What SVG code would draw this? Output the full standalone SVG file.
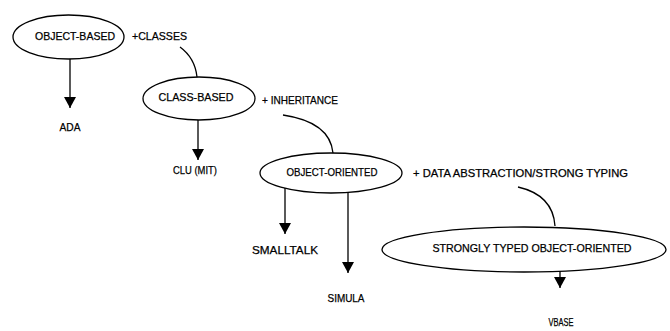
<svg xmlns="http://www.w3.org/2000/svg" width="670" height="331" viewBox="0 0 670 331">
<style>
.n{fill:none;stroke:#000;stroke-width:1.3}
.c{fill:none;stroke:#000;stroke-width:1.3}
text{font-family:"Liberation Sans",Arial,sans-serif;font-size:11px;fill:#000;stroke:#000;stroke-width:0.25}
.m{text-anchor:middle}
</style>
<defs>
<marker id="ah" viewBox="0 0 11 12" refX="11" refY="6" markerWidth="11" markerHeight="12" markerUnits="userSpaceOnUse" orient="auto">
<path d="M0,0 L11,6 L0,12 z" fill="#000"/>
</marker>
</defs>
<rect width="670" height="331" fill="#fff"/>
<g id="connectors">
<path class="c" d="M180,47 Q195,58 197,77"/>
<path class="c" d="M283,115 Q330,122 333,153"/>
<path class="c" d="M518,187 Q553,195 555,226"/>
<line class="c" x1="70" y1="59" x2="70" y2="108" marker-end="url(#ah)"/>
<line class="c" x1="198" y1="120" x2="198" y2="160" marker-end="url(#ah)"/>
<line class="c" x1="285" y1="188" x2="285" y2="234" marker-end="url(#ah)"/>
<line class="c" x1="348" y1="192" x2="348" y2="273" marker-end="url(#ah)"/>
<line class="c" x1="560" y1="271" x2="560" y2="288" marker-end="url(#ah)"/>
</g>
<g id="object-based">
<ellipse class="n" cx="68.5" cy="37" rx="55.5" ry="22"/>
<text class="m" x="75" y="40" textLength="80" lengthAdjust="spacingAndGlyphs">OBJECT-BASED</text>
</g>
<g id="classes-label"><text x="132" y="40" textLength="55" lengthAdjust="spacingAndGlyphs">+CLASSES</text></g>
<g id="ada"><text class="m" x="70" y="131" textLength="21" lengthAdjust="spacingAndGlyphs">ADA</text></g>
<g id="class-based">
<ellipse class="n" cx="199" cy="98.5" rx="56" ry="21.5"/>
<text class="m" x="196" y="101" textLength="75" lengthAdjust="spacingAndGlyphs">CLASS-BASED</text>
</g>
<g id="inheritance-label"><text x="262" y="104" textLength="76" lengthAdjust="spacingAndGlyphs">+ INHERITANCE</text></g>
<g id="clu"><text class="m" x="195" y="174" textLength="44" lengthAdjust="spacingAndGlyphs">CLU (MIT)</text></g>
<g id="object-oriented">
<ellipse class="n" cx="331" cy="173" rx="71" ry="20"/>
<text class="m" x="332" y="176" textLength="91" lengthAdjust="spacingAndGlyphs">OBJECT-ORIENTED</text>
</g>
<g id="data-abstraction-label"><text x="413" y="177" textLength="215" lengthAdjust="spacingAndGlyphs">+ DATA ABSTRACTION/STRONG TYPING</text></g>
<g id="smalltalk"><text class="m" x="285" y="254" textLength="66" lengthAdjust="spacingAndGlyphs">SMALLTALK</text></g>
<g id="simula"><text class="m" x="346" y="302" textLength="37" lengthAdjust="spacingAndGlyphs">SIMULA</text></g>
<g id="strongly-typed">
<ellipse class="n" cx="524" cy="249.5" rx="142" ry="22.5"/>
<text class="m" x="532" y="252" textLength="199" lengthAdjust="spacingAndGlyphs">STRONGLY TYPED OBJECT-ORIENTED</text>
</g>
<g id="vbase"><text class="m" x="561" y="326" textLength="25" lengthAdjust="spacingAndGlyphs">VBASE</text></g>
</svg>
